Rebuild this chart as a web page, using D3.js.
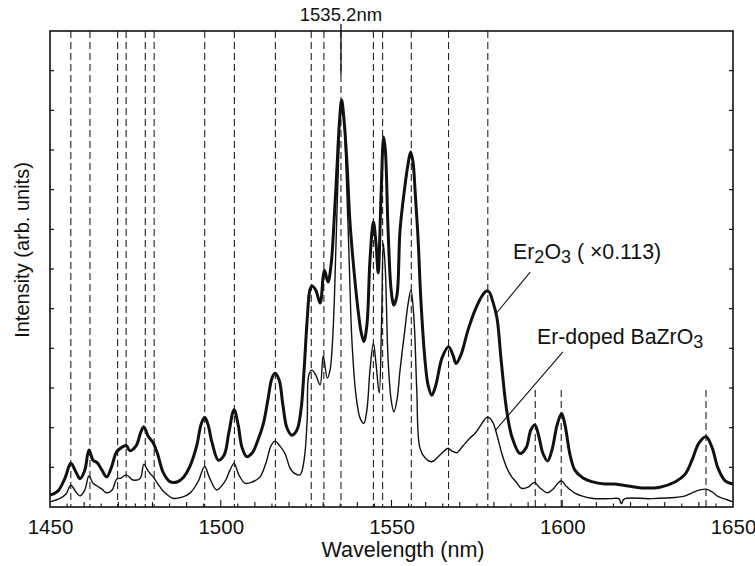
<!DOCTYPE html>
<html>
<head>
<meta charset="utf-8">
<script src="https://cdn.jsdelivr.net/npm/d3@7"></script>
<style>
  html, body { margin: 0; padding: 0; background: #fff; }
  svg { display: block; }
  text { font-family: "Liberation Sans", Arial, Helvetica, sans-serif; fill: #111; }
</style>
</head>
<body>
<script>
// ---------- data ----------
const er2o3Wavelength = [1450,1452.3,1454.4,1456.1,1457.6,1458.8,1460.2,1461.4,1462.6,1463.8,1465.2,1466.6,1467.9,1469.5,1470.8,1472.3,1473.4,1475.2,1476.6,1477.5,1478.7,1480.2,1481.6,1483.1,1485.1,1487.2,1488.9,1491.0,1493.0,1494.2,1495.3,1496.3,1497.4,1499.3,1501.0,1502.4,1503.9,1505.1,1506.2,1507.6,1509.2,1510.9,1512.5,1513.8,1515.0,1515.9,1517.1,1518.2,1519.4,1520.8,1522.3,1523.5,1524.4,1525.3,1526.1,1526.7,1527.8,1529.1,1530.0,1530.4,1531.4,1532.3,1533.2,1534.0,1534.8,1535.4,1536.1,1537.0,1537.8,1539.0,1540.2,1541.1,1541.9,1542.8,1543.7,1544.7,1545.5,1546.1,1546.9,1547.7,1548.2,1549.0,1549.9,1550.7,1551.6,1552.5,1553.9,1554.8,1555.6,1556.3,1556.9,1557.8,1558.6,1559.8,1560.7,1561.8,1563.0,1564.8,1566.7,1568.0,1568.9,1570.3,1572.4,1574.5,1576.5,1577.7,1578.6,1579.7,1580.9,1582.1,1583.7,1585.3,1587.6,1589.4,1590.8,1592.0,1593.2,1594.3,1595.7,1597.0,1598.5,1599.8,1600.8,1602.3,1603.7,1606.1,1608.6,1612.5,1615.4,1619.3,1623.3,1628.6,1633.0,1636.0,1638.0,1640.0,1642.1,1643.9,1645.6,1647.7,1650];
const er2o3Intensity = [0.30,0.40,0.73,1.10,0.88,0.71,0.93,1.44,1.18,1.12,0.93,0.76,0.98,1.39,1.49,1.55,1.42,1.54,1.89,2.02,1.79,1.62,1.31,0.88,0.64,0.63,0.73,1.03,1.56,2.07,2.26,2.07,1.64,1.18,1.31,1.89,2.45,2.07,1.51,1.27,1.36,1.69,2.11,2.70,3.25,3.37,3.20,2.57,1.99,1.81,1.94,2.45,3.45,4.71,5.47,5.57,5.47,5.14,5.81,5.97,5.67,6.10,7.23,8.50,9.76,10.26,9.76,8.62,7.23,5.97,4.97,4.41,4.17,4.59,6.23,7.19,6.60,5.90,7.74,9.33,9.00,6.98,5.47,5.09,5.34,6.98,8.07,8.62,8.95,8.70,7.99,6.73,5.22,3.71,3.08,2.82,3.08,3.76,4.04,3.83,3.62,3.83,4.46,4.97,5.32,5.44,5.42,5.17,4.76,3.71,2.45,1.76,1.35,1.49,1.94,2.07,1.76,1.36,1.16,1.44,2.07,2.36,2.07,1.31,0.93,0.73,0.64,0.58,0.58,0.53,0.48,0.50,0.63,0.83,1.18,1.61,1.77,1.49,0.98,0.66,0.58];

const bzoWavelength = [1450,1452.9,1454.7,1456.1,1457.6,1458.8,1460.2,1461.4,1462.6,1463.8,1465.2,1466.6,1468.2,1469.5,1470.8,1472.3,1474.3,1476.4,1477.5,1478.7,1480.2,1481.6,1483.4,1486.0,1488.7,1491.0,1493.3,1495.3,1496.6,1498.8,1501.2,1502.7,1503.9,1505.3,1507.1,1509.2,1511.5,1513.3,1514.7,1515.9,1517.3,1518.8,1520.3,1521.4,1523.2,1524.4,1525.3,1525.8,1526.7,1527.8,1529.1,1530.0,1531.2,1532.0,1532.9,1533.7,1534.5,1535.2,1535.9,1536.7,1537.6,1538.4,1539.6,1540.8,1541.9,1542.8,1543.7,1544.7,1545.5,1546.4,1547.1,1547.6,1548.2,1549.0,1549.9,1550.7,1551.6,1552.5,1553.9,1554.8,1555.7,1556.6,1557.4,1558.3,1559.8,1561.8,1563.6,1565.4,1566.6,1567.7,1569.1,1570.9,1573.0,1574.5,1576.2,1577.9,1578.8,1579.8,1580.9,1582.3,1583.8,1585.2,1586.5,1588.1,1590.0,1591.8,1593.5,1595.7,1597.3,1598.7,1599.8,1601.1,1603.7,1608.6,1614.0,1616.6,1617.3,1618.1,1625.7,1633.0,1636.0,1637.9,1640.3,1642.1,1643.9,1645.7,1647.7,1650];
const bzoIntensity = [0.13,0.22,0.33,0.55,0.38,0.28,0.43,0.78,0.60,0.53,0.45,0.36,0.43,0.70,0.73,0.81,0.68,0.72,1.08,0.91,0.76,0.58,0.38,0.22,0.25,0.35,0.63,1.02,0.76,0.43,0.64,0.93,1.10,0.81,0.60,0.63,0.76,1.13,1.54,1.66,1.54,1.35,0.98,0.86,0.81,1.18,2.19,3.33,3.45,3.33,3.08,3.81,3.25,3.45,4.46,6.48,8.75,10.13,9.88,8.50,6.23,4.21,2.82,2.24,2.11,2.45,3.45,4.13,3.58,2.87,4.71,6.65,5.97,3.71,2.70,2.40,2.70,3.45,4.46,5.09,5.47,4.71,2.95,1.49,1.24,1.14,1.26,1.41,1.48,1.41,1.37,1.54,1.74,1.86,2.07,2.26,2.24,2.11,1.81,1.35,0.98,0.76,0.63,0.47,0.50,0.62,0.48,0.36,0.45,0.60,0.66,0.53,0.35,0.22,0.21,0.21,0.08,0.20,0.21,0.24,0.28,0.35,0.43,0.45,0.38,0.26,0.20,0.13];

// reference lines (nm)
const fullDashedLines = [1456.1,1461.7,1469.8,1472.3,1477.9,1480.5,1495.3,1504.0,1516.0,1526.5,1530.2,1535.2,1544.7,1547.4,1555.8,1566.7,1578.2];
const shortDashedLines = [1592.1,1599.7,1642.1];
const xTickLabels = [1450,1500,1550,1600,1650];
const yTickValues = [1,2,3,4,5,6,7,8,9,10,11];
const peakLabel = "1535.2nm";
const peakWavelength = 1535.2;

// ---------- layout ----------
const W = 755, H = 566;
const M = {left: 50, right: 22, top: 31, bottom: 59};
const svg = d3.select("body").append("svg").attr("width", W).attr("height", H);

const x = d3.scaleLinear().domain([1450, 1650]).range([M.left, W - M.right]);
const y = d3.scaleLinear().domain([0, 12]).range([H - M.bottom, M.top]);

const x0 = x.range()[0], x1 = x.range()[1], y0 = y.range()[0], y1 = y.range()[1];

// dashed lines
svg.append("g").selectAll("line").data(fullDashedLines).join("line")
  .attr("x1", d => x(d)).attr("x2", d => x(d))
  .attr("y1", y1).attr("y2", y0)
  .attr("stroke", "#222").attr("stroke-width", 1.1).attr("stroke-dasharray", "7,4");
svg.append("g").selectAll("line").data(shortDashedLines).join("line")
  .attr("x1", d => x(d)).attr("x2", d => x(d))
  .attr("y1", y(2.95)).attr("y2", y0)
  .attr("stroke", "#222").attr("stroke-width", 1.1).attr("stroke-dasharray", "7,4");

// curves
const line = (xs, ys) => d3.line().x((d, i) => x(xs[i])).y((d, i) => y(ys[i]))
  .curve(d3.curveCatmullRom.alpha(0.5))(xs);
svg.append("path").attr("d", line(bzoWavelength, bzoIntensity))
  .attr("fill", "none").attr("stroke", "#111").attr("stroke-width", 1.4).attr("stroke-linejoin", "round");
svg.append("path").attr("d", line(er2o3Wavelength, er2o3Intensity))
  .attr("fill", "none").attr("stroke", "#111").attr("stroke-width", 3).attr("stroke-linejoin", "round");

// frame
svg.append("rect").attr("x", x0).attr("y", y1).attr("width", x1 - x0).attr("height", y0 - y1)
  .attr("fill", "none").attr("stroke", "#111").attr("stroke-width", 1.6);

// x axis (ticks inward)
const xAxis = d3.axisBottom(x).tickValues(xTickLabels).tickSize(0).tickPadding(12).tickFormat(d3.format("d"));
const gx = svg.append("g").attr("transform", `translate(0,${y0})`).call(xAxis);
gx.select(".domain").remove();
gx.selectAll("text").attr("font-size", 20.5).attr("fill", "#111")
  .attr("font-family", '"Liberation Sans", Arial, sans-serif');
const minorX = d3.range(1455, 1650, 5);
svg.append("g").selectAll("line").data(minorX).join("line")
  .attr("x1", d => x(d)).attr("x2", d => x(d))
  .attr("y1", y0).attr("y2", d => y0 - (d % 50 === 0 ? 7 : (d % 10 === 0 ? 5 : 3.5)))
  .attr("stroke", "#111").attr("stroke-width", 1.1);

// y ticks (left and right, inward, no labels)
svg.append("g").selectAll("line").data(yTickValues).join("line")
  .attr("x1", x0).attr("x2", x0 + 4).attr("y1", d => y(d)).attr("y2", d => y(d))
  .attr("stroke", "#111").attr("stroke-width", 1.2);
svg.append("g").selectAll("line").data(yTickValues).join("line")
  .attr("x1", x1).attr("x2", x1 - 4).attr("y1", d => y(d)).attr("y2", d => y(d))
  .attr("stroke", "#111").attr("stroke-width", 1.2);

// axis titles
svg.append("text").attr("x", 403).attr("y", 557).attr("text-anchor", "middle")
  .attr("font-size", 21.5).text("Wavelength (nm)");
svg.append("text").attr("transform", "translate(29,250) rotate(-90)").attr("text-anchor", "middle")
  .attr("font-size", 20).text("Intensity (arb. units)");

// peak label
svg.append("line").attr("x1", x(peakWavelength)).attr("x2", x(peakWavelength))
  .attr("y1", 24).attr("y2", 75).attr("stroke", "#111").attr("stroke-width", 1.3);
svg.append("text").attr("x", x(peakWavelength)).attr("y", 21).attr("text-anchor", "middle")
  .attr("font-size", 18.5).text(peakLabel);

// callouts
svg.append("line").attr("x1", x(1590.6)).attr("y1", y(5.92)).attr("x2", x(1580.3)).attr("y2", y(4.84))
  .attr("stroke", "#111").attr("stroke-width", 1.1);
svg.append("line").attr("x1", x(1600.2)).attr("y1", y(3.91)).attr("x2", x(1580.3)).attr("y2", y(1.92))
  .attr("stroke", "#111").attr("stroke-width", 1.1);

const t1 = svg.append("text").attr("x", x(1585.6)).attr("y", y(6.25)).attr("font-size", 21.3);
t1.append("tspan").text("Er");
t1.append("tspan").attr("dy", 4).attr("font-size", 18).text("2");
t1.append("tspan").attr("dy", -4).text("O");
t1.append("tspan").attr("dy", 4).attr("font-size", 18).text("3");
t1.append("tspan").attr("dy", -4).text(" ( ×0.113)");

const t2 = svg.append("text").attr("x", x(1592.6)).attr("y", y(4.11)).attr("font-size", 21.3);
t2.append("tspan").text("Er-doped BaZrO");
t2.append("tspan").attr("dy", 4).attr("font-size", 18).text("3");
</script>
</body>
</html>
